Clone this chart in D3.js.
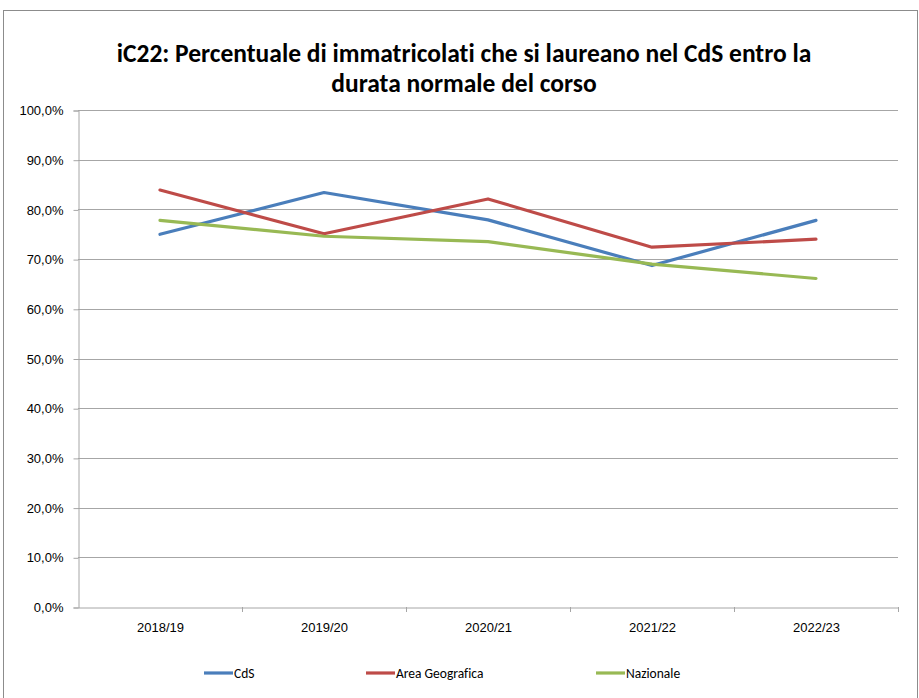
<!DOCTYPE html>
<html lang="it">
<head>
    <meta charset="UTF-8">
    <title>iC22</title>
    <script src="https://d3js.org/d3.v7.min.js"></script>
    <style>
        body { margin: 0; background: #fff; }
        svg { display: block; font-family: Carlito, "Open Sans", "Noto Sans", sans-serif; font-variant-ligatures: none; }
        .tick text { font-size: 13px; fill: #000; }
        .title { font-size: 25.5px; font-weight: bold; }
        .legend text { font-size: 13.5px; }
    </style>
</head>
<body>
    <svg width="919" height="698"></svg>
    <script>
        const categories = ["2018/19", "2019/20", "2020/21", "2021/22", "2022/23"];
        const cds = [75.0, 83.4, 77.9, 68.7, 77.8];
        const areaGeo = [83.9, 75.1, 82.1, 72.4, 74.0];
        const nazionale = [77.8, 74.6, 73.5, 69.0, 66.1];
        const yTicks = [0, 10, 20, 30, 40, 50, 60, 70, 80, 90, 100];

        const series = [
            {name: "CdS", values: cds, color: "#4a7ebb"},
            {name: "Area Geografica", values: areaGeo, color: "#be4b48"},
            {name: "Nazionale", values: nazionale, color: "#98b954"}
        ];

        const width = 919, height = 698;
        const margin = {top: 110, right: 21, bottom: 91, left: 78};

        const svg = d3.select("svg");

        // outer frame
        svg.append("rect")
            .attr("x", 3.5).attr("y", 10.5)
            .attr("width", 914).attr("height", 700)
            .attr("fill", "none").attr("stroke", "#8c8c8c");

        const title = svg.append("text")
            .attr("class", "title")
            .attr("text-anchor", "middle");
        title.append("tspan").attr("x", 464).attr("y", 62)
            .text("iC22: Percentuale di immatricolati che si laureano nel CdS entro la");
        title.append("tspan").attr("x", 464).attr("y", 92)
            .text("durata normale del corso");

        const x = d3.scaleBand()
            .domain(categories)
            .range([margin.left, width - margin.right]);

        const y = d3.scaleLinear()
            .domain([0, 100])
            .range([height - margin.bottom, margin.top]);

        // gridlines
        svg.append("g")
            .selectAll("line")
            .data(yTicks.slice(1))
            .join("line")
            .attr("x1", margin.left).attr("x2", width - margin.right)
            .attr("y1", d => Math.round(y(d)) + 0.5).attr("y2", d => Math.round(y(d)) + 0.5)
            .attr("stroke", "#a6a6a6");

        const yAxis = svg.append("g")
            .attr("transform", `translate(${margin.left + 0.5},0.5)`)
            .call(d3.axisLeft(y).tickValues(yTicks).tickSize(5).tickPadding(10)
                .tickFormat(d => d.toFixed(1).replace(".", ",") + "%"));
        yAxis.select(".domain").attr("stroke", "#a6a6a6");
        yAxis.selectAll(".tick line").attr("stroke", "#a6a6a6");

        const xAxis = svg.append("g")
            .attr("transform", `translate(0.5,${height - margin.bottom + 0.5})`)
            .call(d3.axisBottom(x).tickSize(0).tickPadding(15));
        xAxis.select(".domain").attr("stroke", "#a6a6a6");
        xAxis.selectAll(".tick line").remove();

        // category boundary ticks
        svg.append("g")
            .selectAll("line")
            .data(categories)
            .join("line")
            .attr("x1", d => Math.round(x(d) + x.bandwidth()) + 0.5)
            .attr("x2", d => Math.round(x(d) + x.bandwidth()) + 0.5)
            .attr("y1", y(0)).attr("y2", y(0) + 5)
            .attr("stroke", "#a6a6a6");

        const line = d3.line()
            .x((d, i) => x(categories[i]) + x.bandwidth() / 2)
            .y(d => y(d));

        svg.append("g")
            .selectAll("path")
            .data(series)
            .join("path")
            .attr("d", d => line(d.values))
            .attr("fill", "none")
            .attr("stroke", d => d.color)
            .attr("stroke-width", 3.2)
            .attr("stroke-linecap", "round")
            .attr("stroke-linejoin", "round");

        // legend
        const legendX = [204, 366, 596];
        const legend = svg.append("g").attr("class", "legend")
            .selectAll("g")
            .data(series)
            .join("g")
            .attr("transform", (d, i) => `translate(${legendX[i]},673)`);
        legend.append("line")
            .attr("x1", 0).attr("x2", 29)
            .attr("stroke", d => d.color)
            .attr("stroke-width", 3.2);
        legend.append("text")
            .attr("x", 30).attr("dy", "0.35em")
            .text(d => d.name);
    </script>
</body>
</html>
